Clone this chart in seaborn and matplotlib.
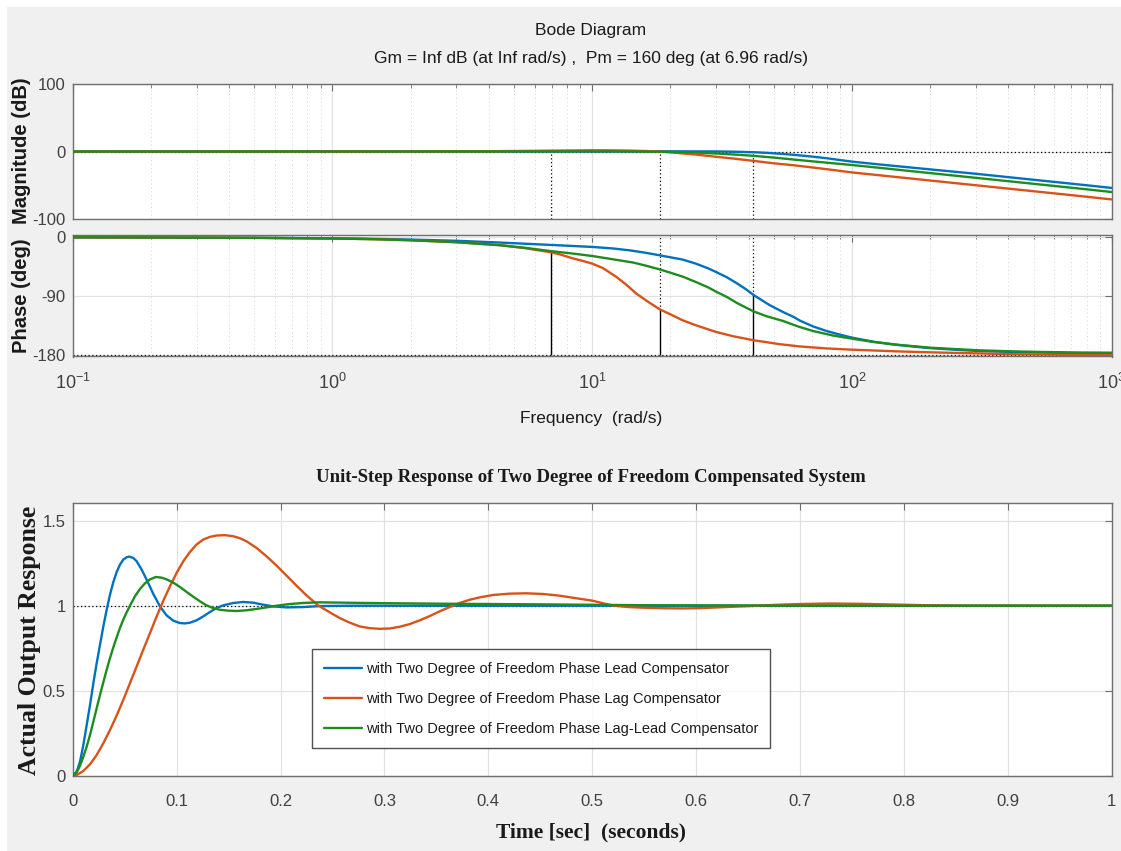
import numpy as np
import pandas as pd
import matplotlib
matplotlib.use("Agg")
import matplotlib.pyplot as plt
import seaborn as sns
from matplotlib.ticker import LogLocator, NullFormatter, FixedLocator, FixedFormatter
from matplotlib.patches import Rectangle

# ---------------- data ----------------
series_names = ["with Two Degree of Freedom Phase Lead Compensator",
                "with Two Degree of Freedom Phase Lag Compensator",
                "with Two Degree of Freedom Phase Lag-Lead Compensator"]

# Bode magnitude (rad/s, dB)
mag_freq_lead = [0.1, 1, 10, 20, 30, 35, 41.5, 47, 53, 60, 70, 80, 100, 130, 200, 300, 400, 600, 800, 1000]
mag_db_lead = [0, 0, 0.1, 0.2, 0.1, -0.3, -1, -2, -3.3, -5, -7.5, -10, -15, -19.5, -26.5, -33, -38, -45, -50, -54]
mag_freq_lag = [0.1, 2, 4, 6, 8, 10, 12, 14, 16, 18.3, 21, 25, 30, 35, 42, 50, 60, 70, 85, 100,
                150, 200, 300, 400, 600, 800, 1000]
mag_db_lag = [0, 0, 0.4, 1, 1.5, 1.8, 1.7, 1.3, 0.7, 0, -2, -4.5, -7.8, -10.5, -14, -17.5, -20.5,
              -23.5, -27.5, -31, -38, -43, -50, -55, -62, -67, -71]
mag_freq_laglead = [0.1, 10, 15, 20, 25, 30, 36, 41.8, 50, 60, 70, 85, 100, 130, 200, 300, 400,
                    600, 800, 1000]
mag_db_laglead = [0, 0.1, 0, -0.5, -1.5, -3, -4.7, -6.4, -9, -12, -14.5, -17.5, -20, -24.5, -32,
                  -39, -44, -51, -56, -60]

# Bode phase (rad/s, deg)
ph_freq_lead = [0.1, 0.2, 0.5, 1, 1.5, 2, 3, 4.4, 6, 8, 10, 12, 14, 16, 18.2, 20, 22.3, 25, 28, 30,
                33, 36, 39, 41.8, 45, 48, 54.3, 60, 63, 70.9, 80, 90, 100, 120, 148, 199, 250, 310,
                420, 562, 750, 1000]
ph_deg_lead = [0, -0.3, -0.8, -1.5, -2.5, -3.5, -5.3, -8, -10.5, -12.8, -14.7, -17, -20, -23.5,
               -27.5, -30.5, -34, -40, -47.5, -53, -61, -70, -79, -88, -96, -103, -114, -122, -127,
               -136, -143, -148.5, -153, -159, -164, -169, -171.5, -173.5, -175, -176, -177, -177.5]
ph_freq_lag = [0.1, 0.2, 0.5, 1, 1.5, 2, 3, 4.4, 5.5, 6.84, 7.5, 8.4, 9.2, 10, 11, 12.4, 13.5, 14.8,
               16.5, 18.2, 20, 22.3, 25, 30, 35, 41.8, 52.7, 63, 80, 100, 150, 199, 300, 418, 700, 1000]
ph_deg_lag = [0, -0.3, -0.8, -1.8, -3, -4.5, -7.5, -12, -16.5, -22.4, -26, -32, -36, -40.2, -47,
              -60.5, -72, -86, -99, -109.8, -117.5, -126.6, -134, -144.4, -151, -157, -163, -166.5,
              -169.5, -171.4, -174, -175.4, -177, -178.3, -179.2, -179.5]
ph_freq_laglead = [0.1, 0.2, 0.5, 1, 1.5, 2, 3, 4.4, 5.5, 6.84, 8.5, 10, 12, 14.4, 16, 18.2, 20,
                   22.3, 25, 28, 30, 33, 36, 39, 41.8, 47, 54.3, 62, 70.9, 85, 100, 120, 148, 199,
                   250, 310, 420, 562, 750, 1000]
ph_deg_laglead = [0, -0.3, -0.8, -1.8, -3, -4.5, -7.4, -12, -16, -20.8, -25, -28.5, -33.5, -38.6,
                  -43, -49, -54, -60, -68, -76.5, -83, -91, -100, -107, -113, -120.5, -127.6, -136,
                  -143, -150, -154.6, -159.5, -163.7, -168.3, -170.5, -172.4, -174, -175, -175.7, -176]

# gain-crossover markers (rad/s) and phase at crossover (deg)
margin_freq = [6.96, 18.3, 41.5]
margin_phase = [-20.5, -111, -88]

# Unit-step responses (s, output)
t_lead = [0, 0.00385, 0.00705, 0.01026, 0.01346, 0.01667, 0.01987, 0.02308, 0.02628, 0.02949,
          0.03269, 0.0359, 0.0391, 0.0423, 0.0455, 0.0487, 0.0519, 0.0545, 0.0583, 0.0615, 0.0663,
          0.0712, 0.0776, 0.084, 0.0904, 0.0968, 0.1032, 0.108, 0.1128, 0.1192, 0.1256, 0.1321,
          0.1385, 0.1449, 0.1545, 0.1641, 0.1737, 0.1833, 0.1929, 0.2058, 0.2218, 0.2378, 0.27,
          0.3, 0.5, 1.0]
y_lead = [0, 0.024, 0.083, 0.181, 0.298, 0.416, 0.544, 0.662, 0.77, 0.878, 0.976, 1.065, 1.139,
          1.198, 1.242, 1.271, 1.285, 1.289, 1.281, 1.262, 1.213, 1.153, 1.069, 0.996, 0.943,
          0.912, 0.898, 0.896, 0.9, 0.914, 0.937, 0.963, 0.987, 1.002, 1.016, 1.022, 1.018, 1.006,
          0.996, 0.99, 0.992, 0.998, 1.0, 1.0, 1.0, 1.0]
t_lag = [0, 0.00385, 0.01026, 0.01667, 0.02308, 0.02949, 0.0359, 0.0423, 0.0487, 0.0551, 0.0615,
         0.0679, 0.0744, 0.0808, 0.0872, 0.0936, 0.1, 0.1064, 0.1128, 0.1192, 0.1256, 0.1321,
         0.1385, 0.1465, 0.1545, 0.1609, 0.1673, 0.1769, 0.1865, 0.1962, 0.2058, 0.2154, 0.225,
         0.2362, 0.2474, 0.2571, 0.2667, 0.2763, 0.2859, 0.2955, 0.3051, 0.3147, 0.3244, 0.334,
         0.3436, 0.3532, 0.3628, 0.3724, 0.3821, 0.3917, 0.4045, 0.4205, 0.4365, 0.4526, 0.4686,
         0.4878, 0.5, 0.51, 0.521, 0.535, 0.55, 0.57, 0.588, 0.605, 0.62, 0.64, 0.66, 0.68, 0.7,
         0.73, 0.76, 0.79, 0.82, 0.86, 1.0]
y_lag = [0, 0.004, 0.028, 0.067, 0.122, 0.191, 0.269, 0.354, 0.446, 0.544, 0.642, 0.741, 0.839,
         0.937, 1.029, 1.114, 1.193, 1.261, 1.316, 1.36, 1.389, 1.405, 1.413, 1.415, 1.409, 1.397,
         1.379, 1.34, 1.291, 1.236, 1.177, 1.118, 1.061, 1.002, 0.961, 0.927, 0.9, 0.878, 0.868,
         0.864, 0.866, 0.876, 0.892, 0.914, 0.939, 0.967, 0.992, 1.016, 1.035, 1.049, 1.063,
         1.071, 1.073, 1.069, 1.059, 1.041, 1.03, 1.015, 1.0, 0.992, 0.988, 0.985, 0.984, 0.986,
         0.99, 0.995, 1.0, 1.006, 1.01, 1.013, 1.011, 1.007, 1.003, 1.0, 1.0]
t_laglead = [0, 0.00385, 0.00705, 0.01026, 0.01346, 0.01667, 0.01987, 0.02308, 0.02628, 0.02949,
             0.03269, 0.0359, 0.0391, 0.0423, 0.0455, 0.0487, 0.0519, 0.0551, 0.0599, 0.0647,
             0.0696, 0.0744, 0.0801, 0.0856, 0.0904, 0.0968, 0.1032, 0.1096, 0.116, 0.1224, 0.1288,
             0.1353, 0.1417, 0.1497, 0.1577, 0.1673, 0.1769, 0.1865, 0.1962, 0.209, 0.2218, 0.2362,
             0.283, 0.35, 0.45, 0.55, 0.7, 1.0]
y_laglead = [0, 0.02, 0.059, 0.112, 0.171, 0.24, 0.318, 0.397, 0.475, 0.55, 0.623, 0.692, 0.755,
             0.814, 0.869, 0.918, 0.961, 1.0, 1.055, 1.098, 1.132, 1.155, 1.169, 1.165, 1.155,
             1.136, 1.11, 1.081, 1.053, 1.026, 1.002, 0.986, 0.976, 0.971, 0.969, 0.973, 0.981,
             0.99, 1.0, 1.01, 1.016, 1.02, 1.016, 1.012, 1.008, 1.003, 1.0, 1.0]

# ticks
bode_xticks = [0.1, 1, 10, 100, 1000]
bode_xticklabels = ["$10^{-1}$", "$10^{0}$", "$10^{1}$", "$10^{2}$", "$10^{3}$"]
mag_yticks = [-100, 0, 100]
phase_yticks = [-180, -90, 0]
step_xticks = [0, 0.1, 0.2, 0.3, 0.4, 0.5, 0.6, 0.7, 0.8, 0.9, 1.0]
step_xticklabels = ["0", "0.1", "0.2", "0.3", "0.4", "0.5", "0.6", "0.7", "0.8", "0.9", "1"]
step_yticks = [0, 0.5, 1, 1.5]
step_yticklabels = ["0", "0.5", "1", "1.5"]

# ---------------- style ----------------
colors = ["#0072BD", "#D95319", "#1E8C1E"]
sns.set_theme(style="white")
plt.rcParams["font.family"] = ["Liberation Sans", "DejaVu Sans"]
plt.rcParams["mathtext.fontset"] = "custom"
plt.rcParams["mathtext.rm"] = "Liberation Sans"
plt.rcParams["mathtext.it"] = "Liberation Sans:italic"
plt.rcParams["mathtext.bf"] = "Liberation Sans:bold"
SANS = ["Liberation Sans", "DejaVu Sans"]
SERIF = ["Liberation Serif", "DejaVu Serif"]
TICKC = "#404040"
SPINEC = "#6e6e6e"
GRIDC = "#e2e2e2"

W, H = 1121, 851
fig = plt.figure(figsize=(W / 100, H / 100), dpi=100)
fig.patch.set_facecolor("white")
fig.add_artist(Rectangle((7 / W, 0), 1, 1 - 7 / H, transform=fig.transFigure,
                         facecolor="#f0f0f0", edgecolor="none", zorder=-10))


def rect(x0, y0, x1, y1):
    return [x0 / W, 1 - y1 / H, (x1 - x0) / W, (y1 - y0) / H]


def style_axes(ax):
    ax.set_facecolor("white")
    for s in ax.spines.values():
        s.set_color(SPINEC)
        s.set_linewidth(1.0)
        s.set_visible(True)
    ax.tick_params(which="both", direction="in", top=True, right=True,
                   colors=SPINEC, labelcolor=TICKC)
    ax.tick_params(which="major", length=5, width=0.8)
    ax.tick_params(which="minor", length=3, width=0.6)
    ax.set_xlabel("")
    ax.set_ylabel("")


ax_mag = fig.add_axes(rect(72.7, 84, 1111.7, 219))
ax_ph = fig.add_axes(rect(72.7, 235, 1111.7, 356.5))
ax_st = fig.add_axes(rect(72.7, 502.7, 1111.7, 775.7))

# ---------------- magnitude ----------------
mag_sets = [(mag_freq_lead, mag_db_lead), (mag_freq_lag, mag_db_lag), (mag_freq_laglead, mag_db_laglead)]
ph_sets = [(ph_freq_lead, ph_deg_lead), (ph_freq_lag, ph_deg_lag), (ph_freq_laglead, ph_deg_laglead)]

for ax in (ax_mag, ax_ph):
    ax.set_xscale("log")
    ax.set_xlim(0.1, 1000)
    ax.xaxis.set_major_locator(FixedLocator(bode_xticks))
    ax.xaxis.set_minor_locator(LogLocator(base=10, subs=np.arange(2, 10), numticks=50))
    ax.xaxis.set_minor_formatter(NullFormatter())
    ax.grid(which="major", axis="both", color=GRIDC, linewidth=0.9, linestyle="-")
    ax.grid(which="minor", axis="x", color="#d4d4d4", linewidth=0.7, linestyle=(0, (1, 3)))
    ax.set_axisbelow(True)

ax_mag.axhline(0, color="black", linestyle=(0, (1, 2)), linewidth=0.9, zorder=1)
for f in margin_freq:
    ax_mag.vlines(f, -100, 0, colors="black", linestyles=(0, (1, 2)), linewidth=0.9, zorder=1)
for (fx, fy), c in zip(mag_sets, colors):
    sns.lineplot(x=fx, y=fy, ax=ax_mag, color=c, linewidth=1.7, estimator=None, sort=False, zorder=3)
ax_mag.set_ylim(-100, 100)
ax_mag.set_yticks(mag_yticks)
ax_mag.set_yticklabels([str(v) for v in mag_yticks])
ax_mag.set_xticklabels([])
style_axes(ax_mag)
ax_mag.tick_params(axis="y", labelsize=12, pad=5)

# ---------------- phase ----------------
ax_ph.axhline(-180, color="black", linestyle=(0, (1, 2)), linewidth=0.9, zorder=1)
for f, p in zip(margin_freq, margin_phase):
    ax_ph.vlines(f, -180, p, colors="black", linewidth=1.0, zorder=2)
for f, p in zip(margin_freq[1:], margin_phase[1:]):
    ax_ph.vlines(f, p, 3.5, colors="black", linestyles=(0, (1, 2)), linewidth=0.9, zorder=1)
for (fx, fy), c in zip(ph_sets, colors):
    sns.lineplot(x=fx, y=fy, ax=ax_ph, color=c, linewidth=1.7, estimator=None, sort=False, zorder=3)
ax_ph.set_ylim(-181.8, 3.5)
ax_ph.set_yticks(phase_yticks)
ax_ph.set_yticklabels([str(v) for v in phase_yticks])
ax_ph.xaxis.set_major_formatter(FixedFormatter(bode_xticklabels))
style_axes(ax_ph)
ax_ph.tick_params(axis="y", labelsize=12, pad=5)
ax_ph.tick_params(axis="x", labelsize=13, pad=12)

fig.text(591 / W, 1 - 30 / H, "Bode Diagram", ha="center", va="center",
         fontsize=12.5, family=SANS, color="#1a1a1a")
fig.text(591 / W, 1 - 58 / H, "Gm = Inf dB (at Inf rad/s) ,  Pm = 160 deg (at 6.96 rad/s)",
         ha="center", va="center", fontsize=12.5, family=SANS, color="#1a1a1a")
fig.text(591 / W, 1 - 419 / H, "Frequency  (rad/s)", ha="center", va="center",
         fontsize=12.5, family=SANS, color="#1a1a1a")
fig.text(22 / W, 1 - 151 / H, "Magnitude (dB)", ha="center", va="center", rotation=90,
         fontsize=14.5, fontweight="bold", family=SANS, color="#1a1a1a")
fig.text(22 / W, 1 - 296 / H, "Phase (deg)", ha="center", va="center", rotation=90,
         fontsize=14.5, fontweight="bold", family=SANS, color="#1a1a1a")

# ---------------- step response ----------------
step_sets = [(t_lead, y_lead), (t_lag, y_lag), (t_laglead, y_laglead)]
ax_st.axhline(1.0, color="black", linestyle=(0, (1, 2)), linewidth=0.9, zorder=1)
for (tx, ty), c, name in zip(step_sets, colors, series_names):
    sns.lineplot(x=tx, y=ty, ax=ax_st, color=c, linewidth=1.7, estimator=None, sort=False,
                 zorder=3, label=name)
ax_st.set_xlim(0, 1)
ax_st.set_ylim(0, 1.606)
ax_st.set_xticks(step_xticks)
ax_st.set_xticklabels(step_xticklabels)
ax_st.set_yticks(step_yticks)
ax_st.set_yticklabels(step_yticklabels)
ax_st.grid(which="major", color=GRIDC, linewidth=0.9)
ax_st.set_axisbelow(True)
style_axes(ax_st)
ax_st.tick_params(axis="both", labelsize=12)
ax_st.tick_params(axis="x", pad=13)
ax_st.tick_params(axis="y", pad=5)

leg = ax_st.legend(loc="lower left", bbox_to_anchor=(0.230, 0.101), frameon=True, fancybox=False,
                   fontsize=10.5, handlelength=2.6, handletextpad=0.25, labelspacing=1.1,
                   borderpad=0.85, borderaxespad=0)
leg.get_frame().set_edgecolor("#262626")
leg.get_frame().set_linewidth(1.0)
for txt in leg.get_texts():
    txt.set_color("#1a1a1a")

fig.text(591 / W, 1 - 478 / H, "Unit-Step Response of Two Degree of Freedom Compensated System",
         ha="center", va="center", fontsize=13.5, fontweight="bold", family=SERIF, color="#1a1a1a")
fig.text(591 / W, 1 - 832 / H, "Time [sec]  (seconds)", ha="center", va="center",
         fontsize=15.5, fontweight="bold", family=SERIF, color="#1a1a1a")
fig.text(30 / W, 1 - 640 / H, "Actual Output Response", ha="center", va="center", rotation=90,
         fontsize=18.5, fontweight="bold", family=SERIF, color="#1a1a1a")

fig.savefig("out.png", dpi=100, facecolor=fig.get_facecolor())
